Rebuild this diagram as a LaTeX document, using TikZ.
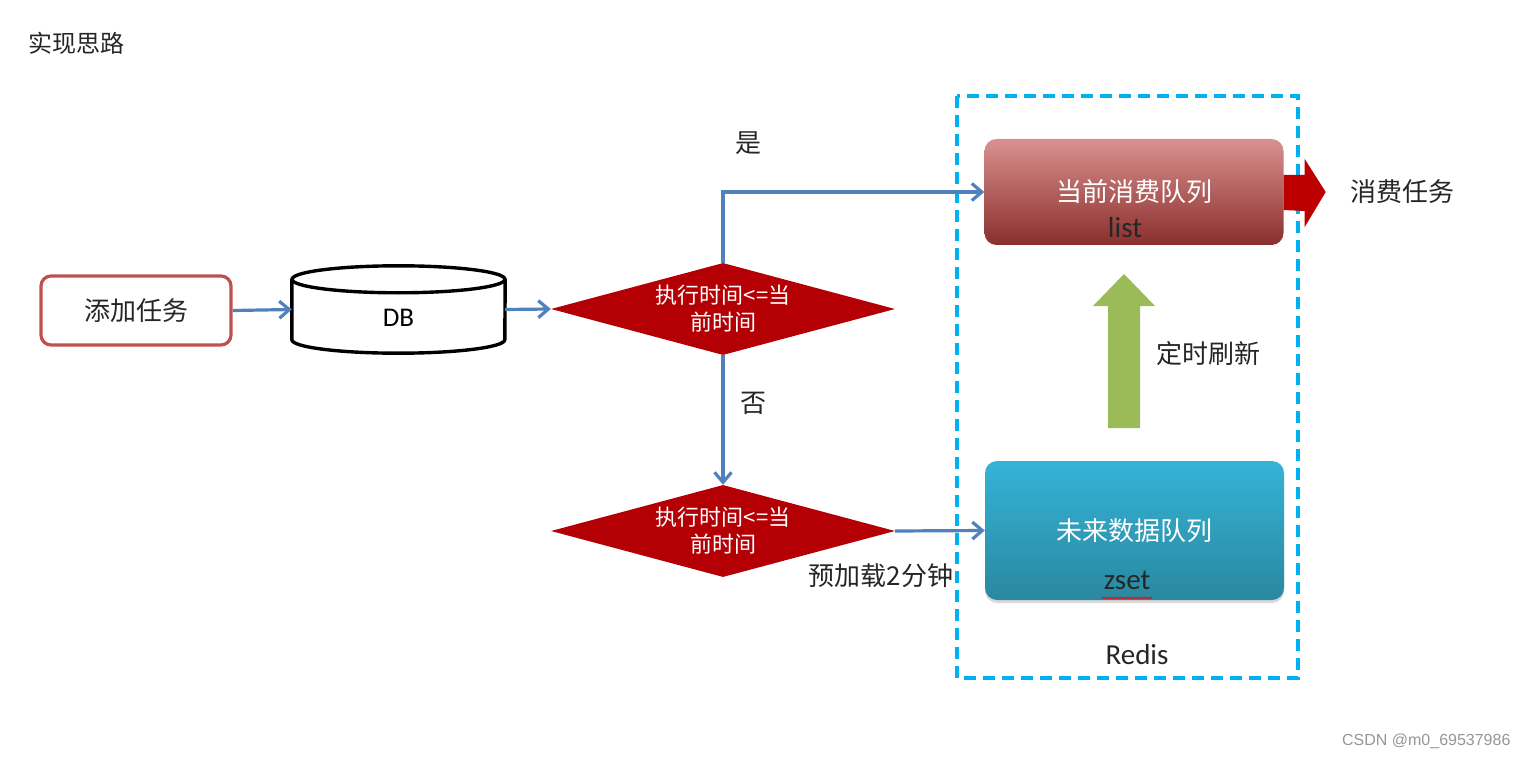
\documentclass[tikz,border=0pt]{standalone}
\usepackage{fontspec}
\setmainfont{Noto Sans CJK SC}
\newfontfamily\latinfont{Carlito}
\newfontfamily\markfont{Liberation Sans}
\usetikzlibrary{arrows.meta,shapes.geometric,calc,shadows,decorations.pathmorphing}

\definecolor{flowblue}{HTML}{4F81BD}
\definecolor{taskred}{HTML}{C0504D}
\definecolor{checkred}{HTML}{B40005}
\definecolor{consumered}{HTML}{BC0000}
\definecolor{redisblue}{HTML}{00B0F0}
\definecolor{refreshgreen}{HTML}{9BBB59}
\definecolor{labelgray}{HTML}{262626}

\tikzset{
    flow/.style={
        line width=3.2pt,
        flowblue,
        -{Straight Barb[length=10pt,width=17pt]}
    },
    cntext/.style={
        text=labelgray,
        font=\fontsize{26pt}{30pt}\selectfont
    },
    entext/.style={
        text=labelgray,
        font=\latinfont\fontsize{29pt}{32pt}\selectfont
    },
    checkbox/.style={
        diamond,
        aspect=3.74,
        inner sep=0pt,
        minimum width=344pt,
        minimum height=92pt,
        fill=checkred,
        text=white,
        align=center,
        font=\fontsize{22pt}{27pt}\selectfont
    },
    queuebox/.style={
        rectangle,
        rounded corners=12pt,
        minimum width=299pt,
        text=white,
        font=\fontsize{26pt}{30pt}\selectfont
    }
}

\begin{document}
\begin{tikzpicture}[x=1pt,y=-1pt]
    \useasboundingbox (0,0) rectangle (1528,759);

    % title
    \node[cntext, anchor=west, font=\fontsize{24pt}{28pt}\selectfont] (title) at (25,43) {实现思路};

    % left part of the flow
    \node[cntext, draw=taskred, line width=3.2pt, rounded corners=10pt,
          minimum width=190pt, minimum height=69pt] (addtask) at (136,310.5) {添加任务};
    \node[minimum width=213pt, minimum height=87pt, inner sep=0pt] (db) at (398.5,309.5) {};
    \draw[line width=3.4pt]
        ($(db.north)+(0,13.5)$) ellipse [x radius=106.5pt, y radius=13.5pt];
    \draw[line width=3.4pt]
        ($(db.north west)+(0,13.5)$) -- ($(db.south west)+(0,-13.5)$)
        arc [start angle=180, end angle=360, x radius=106.5pt, y radius=13.5pt]
        -- ($(db.north east)+(0,13.5)$);
    \node[font=\latinfont\fontsize{27pt}{30pt}\selectfont] (dblabel) at (398.5,318) {DB};

    \node[checkbox] (check1) at (723,309) {执行时间<=当\\前时间};
    \node[checkbox] (check2) at (723,531) {执行时间<=当\\前时间};

    % redis part
    \draw[redisblue, line width=3.6pt, dash pattern=on 12pt off 7pt] (957,96) rectangle (1298,678);

    \node[queuebox, minimum height=106pt,
          top color={rgb,255:red,217;green,145;blue,143},
          middle color={rgb,255:red,191;green,83;blue,80},
          bottom color={rgb,255:red,138;green,47;blue,45}] (box1) at (1134,192) {当前消费队列};
    \node[entext] (listlabel) at (1125,228) {list};

    \node[queuebox, minimum height=139pt,
          drop shadow={opacity=0.3, shadow xshift=0pt, shadow yshift=-3pt},
          top color={rgb,255:red,53;green,179;blue,215},
          middle color={rgb,255:red,49;green,160;blue,192},
          bottom color={rgb,255:red,42;green,136;blue,159}] (box2) at (1134.5,530.5) {未来数据队列};
    \node[entext] (zsetlabel) at (1127,580) {zset};
    \draw[red, line width=0.8pt, decorate, decoration={snake, amplitude=0.9pt, segment length=3pt}]
        (1102,598) -- (1152,598);

    \node[entext] (redislabel) at (1137,655) {Redis};

    % connectors
    \draw[flow] (addtask.east) -- (db.west);
    \draw[flow] (db.east) -- (check1.west);
    \draw[flow] (check1.north) |- (box1.west);
    \draw[flow] (check1.south) -- (check2.north);
    \draw[flow] (check2.east) -- (box2.west);

    \node[cntext] (yes) at (748,143) {是};
    \node[cntext] (no) at (753,403) {否};
    \node[cntext] (preload) at (881,576) {预加载2分钟};

    % consume arrow
    \fill[consumered]
        ($(box1.east)+(0,-17)$) -- ++(21,0) -- ++(0,-16) -- ($(box1.east)+(42,0)$)
        -- ($(box1.east)+(21,35)$) -- ++(0,-16) -- ($(box1.east)+(0,18)$) -- cycle;
    \node[cntext] (consume) at (1402,192) {消费任务};

    % refresh arrow
    \fill[refreshgreen]
        (1108,428) -- (1108,306) -- (1093,306) -- (1124,274) -- (1155,306) -- (1140,306) -- (1140,428) -- cycle;
    \node[cntext] (refresh) at (1208,354) {定时刷新};

    % watermark
    \node[text={rgb,255:red,150;green,150;blue,150}, font=\markfont\fontsize{16pt}{18pt}\selectfont,
          anchor=east] (mark) at (1514,741) {CSDN @m0\_69537986};
\end{tikzpicture}
\end{document}
